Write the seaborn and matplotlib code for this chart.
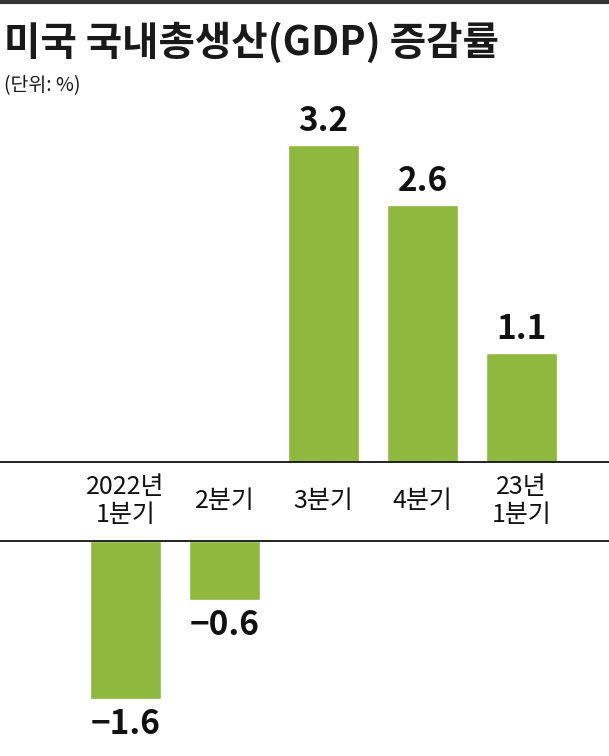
import matplotlib
matplotlib.use("Agg")
import matplotlib.pyplot as plt
import matplotlib.transforms as mtransforms
import seaborn as sns

# ========================
# DATA
# ========================
QUARTERS = ["2022년\n1분기", "2분기", "3분기", "4분기", "23년\n1분기"]
GROWTH = [-1.6, -0.6, 3.2, 2.6, 1.1]
VALUE_LABELS = ["−1.6", "−0.6", "3.2", "2.6", "1.1"]

TITLE = "미국 국내총생산(GDP) 증감률"
UNIT = "(단위: %)"
GREEN = "#8fb83f"

# ========================
# STYLE
# ========================
sns.set_style("white")
plt.rcParams["font.family"] = ["Noto Sans CJK KR", "DejaVu Sans"]

W, H = 609, 756
fig = plt.figure(figsize=(W / 100, H / 100), dpi=100)

PX_PER_UNIT = 99
ZERO_TOP = 462      # pixel row of the band top line
ZERO_BOT = 541      # pixel row of the band bottom line
AX_TOP = 100
X0 = 125.5          # pixel column of first bar centre
XLIM = (-X0 / PX_PER_UNIT, (W - X0) / PX_PER_UNIT)

ax_pos = fig.add_axes([0, 1 - ZERO_TOP / H, 1, (ZERO_TOP - AX_TOP) / H])
ax_neg = fig.add_axes([0, 0, 1, 1 - ZERO_BOT / H])

for ax in (ax_pos, ax_neg):
    sns.barplot(x=QUARTERS, y=GROWTH, color=GREEN, saturation=1,
                width=71 / PX_PER_UNIT, ax=ax)
    ax.set_xlim(*XLIM)
    ax.set_xticks([])
    ax.set_yticks([])
    ax.set_xlabel("")
    ax.set_ylabel("")
    for s in ax.spines.values():
        s.set_visible(False)
    ax.patch.set_alpha(0)

ax_pos.set_ylim(0, (ZERO_TOP - AX_TOP) / PX_PER_UNIT)
ax_neg.set_ylim(-(H - ZERO_BOT) / PX_PER_UNIT, 0)
ax_pos.spines["bottom"].set_visible(True)
ax_pos.spines["bottom"].set_linewidth(1.3)
ax_pos.spines["bottom"].set_color("#111111")
ax_neg.spines["top"].set_visible(True)
ax_neg.spines["top"].set_linewidth(1.3)
ax_neg.spines["top"].set_color("#111111")

# value labels
for i, (v, lab) in enumerate(zip(GROWTH, VALUE_LABELS)):
    if v >= 0:
        ax_pos.annotate(lab, (i, v), xytext=(0, 5), textcoords="offset points",
                        ha="center", va="bottom", fontsize=24,
                        fontweight="bold", color="#111111")
    else:
        ax_neg.annotate(lab, (i, v), xytext=(0, -6), textcoords="offset points",
                        ha="center", va="top", fontsize=24,
                        fontweight="bold", color="#111111")

# category labels inside the band
band_y = 1 - (ZERO_TOP + ZERO_BOT) / 2 / H
trans = mtransforms.blended_transform_factory(ax_pos.transData, fig.transFigure)
for i, q in enumerate(QUARTERS):
    ax_pos.text(i, band_y, q, transform=trans, ha="center", va="center",
                fontsize=18, linespacing=1.1, color="#111111", clip_on=False)

# title block
fig.text(4 / W, 1 - 43 / H, TITLE, ha="left", va="center", fontsize=28.5,
         fontweight="bold", color="#1a1a1a")
fig.text(4 / W, 1 - 86 / H, UNIT, ha="left", va="center", fontsize=14,
         color="#1a1a1a")
fig.add_artist(plt.Line2D([0, 1], [1 - 1.5 / H, 1 - 1.5 / H],
                          transform=fig.transFigure, color="#333333", lw=3))

fig.savefig("out.png", dpi=100)
